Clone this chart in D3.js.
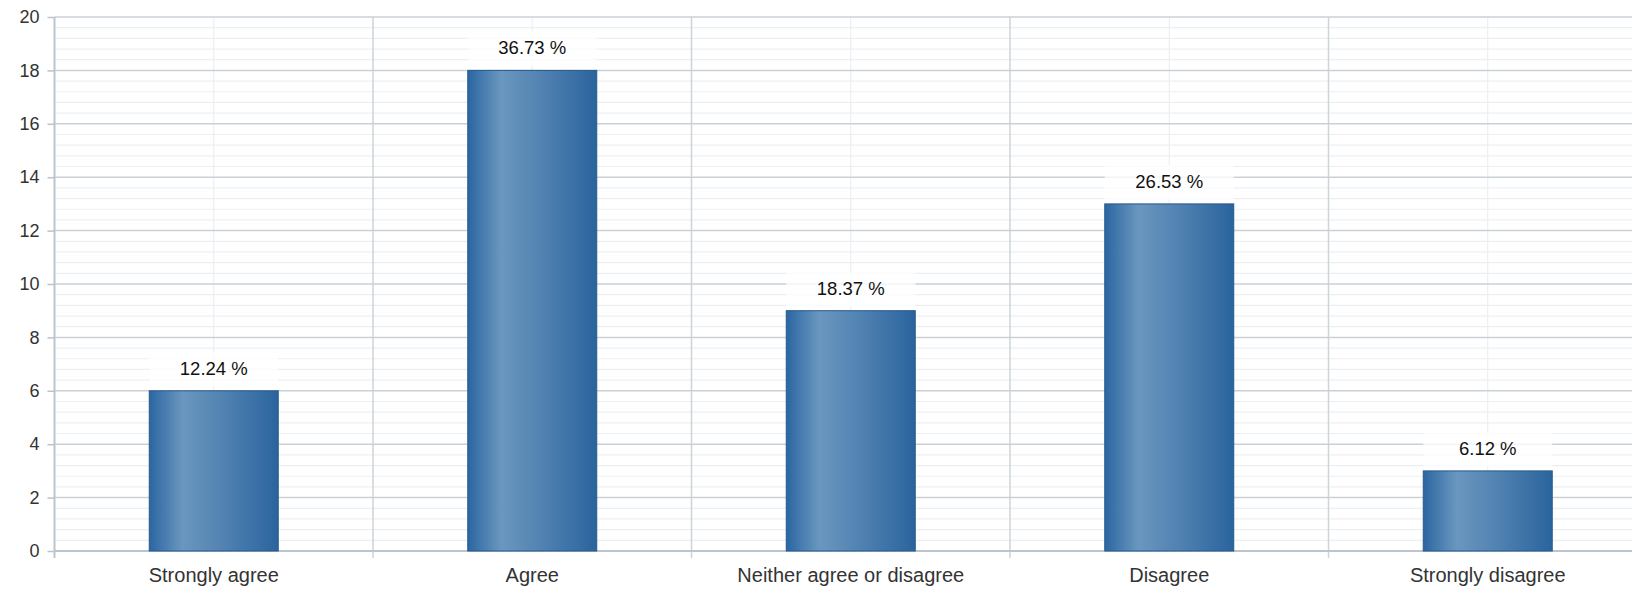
<!DOCTYPE html>
<html>
<head>
<meta charset="utf-8">
<script src="https://cdn.jsdelivr.net/npm/d3@7"></script>
<style>
  html, body { margin: 0; padding: 0; background: #fff; overflow: hidden; }
  svg { display: block; font-family: "Liberation Sans", Arial, sans-serif; }
</style>
</head>
<body>
<svg id="chart" width="1632" height="591"></svg>
<script>
// Survey responses: number of respondents per answer
const categories = ["Strongly agree", "Agree", "Neither agree or disagree", "Disagree", "Strongly disagree"];
const counts = [6, 18, 9, 13, 3];
const yTicks = [0, 2, 4, 6, 8, 10, 12, 14, 16, 18, 20];

const total = d3.sum(counts);
const data = categories.map((c, i) => ({ cat: c, n: counts[i], pct: counts[i] / total * 100 }));

const W = 1632, H = 591;
const plotLeft = 54.5, plotTop = 17, plotBottom = 551;
const bandW = 318.5;

const svg = d3.select("#chart");

const x = d3.scaleBand()
  .domain(categories)
  .range([plotLeft, plotLeft + bandW * categories.length])
  .padding(0);

const y = d3.scaleLinear().domain([0, 20]).range([plotBottom, plotTop]);

// gradient for the bars
const defs = svg.append("defs");
const grad = defs.append("linearGradient").attr("id", "barGrad")
  .attr("x1", "0%").attr("x2", "100%").attr("y1", "0%").attr("y2", "0%");
grad.append("stop").attr("offset", "0%").attr("stop-color", "#2b66a1");
grad.append("stop").attr("offset", "26%").attr("stop-color", "#6a97bf");
grad.append("stop").attr("offset", "60%").attr("stop-color", "#4f80b0");
grad.append("stop").attr("offset", "100%").attr("stop-color", "#2a649d");

const grid = svg.append("g");

// minor horizontal grid lines
const minor = d3.range(0, 20.001, 0.4).filter(v => Math.abs(v / 2 - Math.round(v / 2)) > 1e-6);
grid.selectAll("line.hminor").data(minor).join("line")
  .attr("class", "hminor")
  .attr("x1", plotLeft).attr("x2", W)
  .attr("y1", d => y(d)).attr("y2", d => y(d))
  .attr("stroke", "#eceff2").attr("stroke-width", 1.2);

// minor vertical grid lines at band centres
grid.selectAll("line.vminor").data(categories).join("line")
  .attr("class", "vminor")
  .attr("x1", d => x(d) + x.bandwidth() / 2).attr("x2", d => x(d) + x.bandwidth() / 2)
  .attr("y1", plotTop).attr("y2", plotBottom)
  .attr("stroke", "#eceff2").attr("stroke-width", 1.2);

// major vertical grid lines at band boundaries
grid.selectAll("line.vmajor").data(categories.slice(1)).join("line")
  .attr("class", "vmajor")
  .attr("x1", d => x(d)).attr("x2", d => x(d))
  .attr("y1", plotTop).attr("y2", plotBottom + 7)
  .attr("stroke", "#cdd4da").attr("stroke-width", 1.5);

// major horizontal grid lines
grid.selectAll("line.hmajor").data(yTicks).join("line")
  .attr("class", "hmajor")
  .attr("x1", plotLeft).attr("x2", W)
  .attr("y1", d => y(d)).attr("y2", d => y(d))
  .attr("stroke", "#c9d1d8").attr("stroke-width", 1.5);

// y axis
const yAxis = d3.axisLeft(y).tickValues(yTicks).tickSize(7).tickPadding(8).tickFormat(d3.format("d"));
const gy = svg.append("g").attr("transform", `translate(${plotLeft},0)`).call(yAxis);
gy.select(".domain").remove();
gy.selectAll(".tick line").attr("stroke", "#b9c3cc").attr("stroke-width", 1.5);
gy.selectAll(".tick text").attr("font-size", 18).attr("fill", "#333")
  .attr("font-family", "Liberation Sans, Arial, sans-serif");
svg.append("line")
  .attr("x1", plotLeft).attr("x2", plotLeft).attr("y1", plotTop).attr("y2", plotBottom + 7)
  .attr("stroke", "#bcc5ce").attr("stroke-width", 2);

// x axis
const xAxis = d3.axisBottom(x).tickSize(0).tickPadding(17);
const gx = svg.append("g").attr("transform", `translate(0,${plotBottom})`).call(xAxis);
gx.select(".domain").remove();
gx.selectAll(".tick text").attr("font-size", 20).attr("fill", "#333")
  .attr("font-family", "Liberation Sans, Arial, sans-serif");
svg.append("line")
  .attr("x1", plotLeft).attr("x2", W).attr("y1", plotBottom).attr("y2", plotBottom)
  .attr("stroke", "#bcc5ce").attr("stroke-width", 1.8);

// bars
const barW = x.bandwidth() * 0.405;
svg.append("g").selectAll("rect").data(data).join("rect")
  .attr("x", d => x(d.cat) + (x.bandwidth() - barW) / 2)
  .attr("y", d => y(d.n))
  .attr("width", barW)
  .attr("height", d => y(0) - y(d.n))
  .attr("fill", "url(#barGrad)")
  .attr("stroke", "#255a8e").attr("stroke-width", 1);

// value labels with a light backing box
const lab = svg.append("g").selectAll("g").data(data).join("g")
  .attr("transform", d => `translate(${x(d.cat) + x.bandwidth() / 2},${y(d.n)})`);
lab.append("rect")
  .attr("x", -barW / 2).attr("y", -39)
  .attr("width", barW).attr("height", 35)
  .attr("fill", "#fff").attr("opacity", 0.75);
lab.append("text")
  .attr("text-anchor", "middle")
  .attr("y", -16)
  .attr("font-size", 18.5)
  .attr("fill", "#111")
  .text(d => d.pct.toFixed(2) + " %");
</script>
</body>
</html>
